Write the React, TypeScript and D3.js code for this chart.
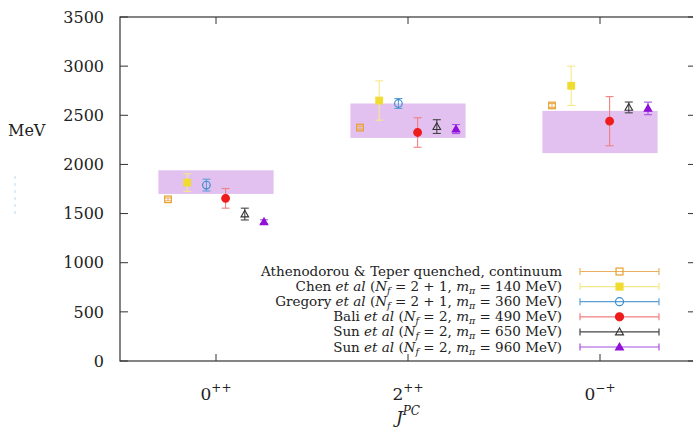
import React from 'react';
import * as d3 from 'd3';

// categories on the x axis (J^PC)
const categories = [
  { base: '0', sup: '++' },
  { base: '2', sup: '++' },
  { base: '0', sup: '\u2212+' },
];

// shaded bands (experimental ranges), per category
const bandLow = [1700, 2270, 2115];
const bandHigh = [1940, 2620, 2545];

// lattice results, per category (null = no point)
const athenodorouVals = [1645, 2375, 2600];
const athenodorouErrs = [15, 15, 20];
const chenVals = [1815, 2650, 2800];
const chenErrs = [90, 200, 200];
const gregoryVals = [1790, 2620, null];
const gregoryErrs = [60, 50, null];
const baliVals = [1655, 2325, 2440];
const baliErrs = [100, 150, 250];
const sun650Vals = [1495, 2385, 2580];
const sun650Errs = [60, 70, 55];
const sun960Vals = [1417, 2360, 2570];
const sun960Errs = [20, 46, 64];

const yTicks = [0, 500, 1000, 1500, 2000, 2500, 3000, 3500];
const offsets = [-0.25, -0.15, -0.05, 0.05, 0.15, 0.25];

const series = [
  { who: 'Athenodorou & Teper quenched, continuum', plain: true, vals: athenodorouVals, errs: athenodorouErrs, marker: 'square', filled: false, color: '#e8a030', line: '#eab060' },
  { who: 'Chen', nf: '2 + 1', mpi: '140', vals: chenVals, errs: chenErrs, marker: 'square', filled: true, color: '#f0dc30', line: '#f4e88a' },
  { who: 'Gregory', nf: '2 + 1', mpi: '360', vals: gregoryVals, errs: gregoryErrs, marker: 'circle', filled: false, color: '#3b8ccc', line: '#5aa0d6' },
  { who: 'Bali', nf: '2', mpi: '490', vals: baliVals, errs: baliErrs, marker: 'circle', filled: true, color: '#ee1c1c', line: '#f28080' },
  { who: 'Sun', nf: '2', mpi: '650', vals: sun650Vals, errs: sun650Errs, marker: 'triangle', filled: false, color: '#333333', line: '#444444' },
  { who: 'Sun', nf: '2', mpi: '960', vals: sun960Vals, errs: sun960Errs, marker: 'triangle', filled: true, color: '#9010d8', line: '#a850e0' },
];

const W = 693;
const H = 427;
const plot = { left: 120, right: 696, top: 17, bottom: 361 };
const serif = "'DejaVu Serif', serif";

const Marker = ({ type, filled, color, cx, cy, size = 1 }) => {
  if (type === 'square') {
    const h = 3.3 * size;
    return <rect x={cx - h} y={cy - h} width={2 * h} height={2 * h} fill={filled ? color : 'none'} stroke={color} strokeWidth={1.2} />;
  }
  if (type === 'circle') {
    return <circle cx={cx} cy={cy} r={3.8 * size} fill={filled ? color : 'none'} stroke={color} strokeWidth={1.2} />;
  }
  const s = 3.8 * size;
  const pts = [[cx, cy - s], [cx - s, cy + s * 0.75], [cx + s, cy + s * 0.75]].map(p => p.join(',')).join(' ');
  return <polygon points={pts} fill={filled ? color : 'none'} stroke={color} strokeWidth={1.1} />;
};

const LegendLabel = ({ s, x, y }) => {
  if (s.plain) {
    return <text x={x} y={y} textAnchor="end" fontFamily={serif} fontSize={13.5} fill="#222">{s.who}</text>;
  }
  return (
    <text x={x} y={y} textAnchor="end" fontFamily={serif} fontSize={13.5} fill="#222">
      {s.who + ' '}
      <tspan fontStyle="italic">et al</tspan>
      {' ('}
      <tspan fontStyle="italic">N</tspan>
      <tspan fontStyle="italic" fontSize={9.5} dy={3}>f</tspan>
      <tspan dy={-3}>{' = ' + s.nf + ', '}</tspan>
      <tspan fontStyle="italic">m</tspan>
      <tspan fontStyle="italic" fontSize={9.5} dy={3}>{'\u03c0'}</tspan>
      <tspan dy={-3}>{' = ' + s.mpi + ' MeV)'}</tspan>
    </text>
  );
};

const App = () => {
  const x = d3.scaleLinear().domain([-0.5, 2.5]).range([plot.left, plot.right]);
  const y = d3.scaleLinear().domain([0, 3500]).range([plot.bottom, plot.top]);
  const bandHalf = 0.3;
  const cap = 4;

  const legendTop = 271.5;
  const legendStep = 15.1;
  const legX0 = 580;
  const legX1 = 659;

  return (
    <>
      <style>{`body, html { margin: 0; padding: 0; background: #fff; }`}</style>
      <svg width={W} height={H} style={{ display: 'block' }}>
        <rect width={W} height={H} fill="white" />

        {/* stray faint mark at left */}
        <line x1={15} x2={15} y1={176} y2={216} stroke="#b8d8f2" strokeWidth={1} strokeDasharray="3,4" />

        {/* bands */}
        {categories.map((c, i) => (
          <rect
            key={'band' + i}
            x={x(i - bandHalf)}
            y={y(bandHigh[i])}
            width={x(i + bandHalf) - x(i - bandHalf)}
            height={y(bandLow[i]) - y(bandHigh[i])}
            fill="#e2c0f0"
          />
        ))}

        {/* error bars and points */}
        {series.map((s, si) => (
          <g key={'s' + si}>
            {s.vals.map((v, ci) => {
              if (v == null) return null;
              const px = x(ci + offsets[si]);
              const e = s.errs[ci];
              const yt = y(v + e);
              const yb = y(v - e);
              return (
                <g key={ci}>
                  <line x1={px} x2={px} y1={yt} y2={yb} stroke={s.line} strokeWidth={1.1} />
                  <line x1={px - cap} x2={px + cap} y1={yt} y2={yt} stroke={s.line} strokeWidth={1.1} />
                  <line x1={px - cap} x2={px + cap} y1={yb} y2={yb} stroke={s.line} strokeWidth={1.1} />
                  <Marker type={s.marker} filled={s.filled} color={s.color} cx={px} cy={y(v)} />
                </g>
              );
            })}
          </g>
        ))}

        {/* frame */}
        <rect x={plot.left} y={plot.top} width={plot.right - plot.left} height={plot.bottom - plot.top} fill="none" stroke="#333" strokeWidth={1.2} />

        {/* y ticks */}
        {yTicks.map(t => (
          <g key={'yt' + t}>
            <line x1={plot.left} x2={plot.left + 8} y1={y(t)} y2={y(t)} stroke="#333" />
            <line x1={plot.right - 8} x2={plot.right} y1={y(t)} y2={y(t)} stroke="#333" />
            <text x={104} y={y(t)} dy="0.36em" textAnchor="end" fontFamily={serif} fontSize={16} fill="#222">{t}</text>
          </g>
        ))}

        {/* x ticks */}
        {categories.map((c, i) => (
          <g key={'xt' + i}>
            <line x1={x(i)} x2={x(i)} y1={plot.bottom} y2={plot.bottom - 7} stroke="#333" />
            <line x1={x(i)} x2={x(i)} y1={plot.top} y2={plot.top + 7} stroke="#333" />
            <text x={x(i)} y={400} textAnchor="middle" fontFamily={serif} fontSize={17} fill="#222">
              {c.base}
              <tspan fontSize={12} dy={-8}>{c.sup}</tspan>
            </text>
          </g>
        ))}

        {/* axis titles */}
        <text x={8} y={136} fontFamily={serif} fontSize={16} fill="#222">MeV</text>
        <text x={x(1)} y={423} textAnchor="middle" fontFamily={serif} fontSize={17} fill="#222">
          <tspan fontStyle="italic">J</tspan>
          <tspan fontStyle="italic" fontSize={12} dy={-8}>PC</tspan>
        </text>

        {/* legend */}
        {series.map((s, si) => {
          const ly = legendTop + si * legendStep;
          return (
            <g key={'lg' + si}>
              <LegendLabel s={s} x={562} y={ly + 4.5} />
              <line x1={legX0} x2={legX1} y1={ly} y2={ly} stroke={s.line} strokeWidth={1.2} />
              <line x1={legX0} x2={legX0} y1={ly - 3.5} y2={ly + 3.5} stroke={s.line} strokeWidth={1.2} />
              <line x1={legX1} x2={legX1} y1={ly - 3.5} y2={ly + 3.5} stroke={s.line} strokeWidth={1.2} />
              <Marker type={s.marker} filled={s.filled} color={s.color} cx={(legX0 + legX1) / 2} cy={ly} size={1.05} />
            </g>
          );
        })}
      </svg>
    </>
  );
};

export default App;
